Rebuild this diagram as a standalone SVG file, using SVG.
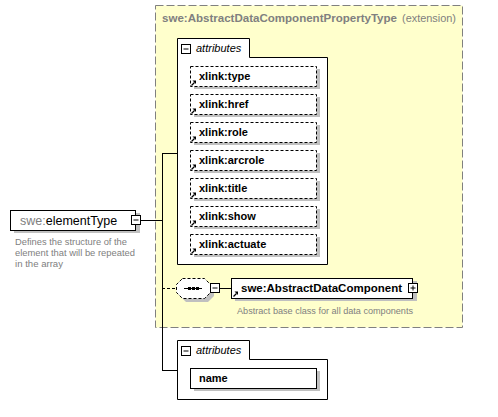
<svg xmlns="http://www.w3.org/2000/svg" width="498" height="417" viewBox="0 0 498 417">
<style>
text{font-family:"Liberation Sans",Arial,sans-serif;}
.b{font-weight:bold;font-size:11px;fill:#000;}
.d{font-size:9.5px;fill:#808080;}
.it{font-style:italic;font-size:11px;fill:#000;}
.sh{fill:#c0c0c0;stroke:none;}
.box{fill:#fff;stroke:#000;stroke-width:1;}
.dbox{fill:#fff;stroke:#000;stroke-width:1;stroke-dasharray:3,2;}
.ln{stroke:#000;stroke-width:1;fill:none;}
</style>
<defs>
<g id="arr">
<path d="M0.5,5.5 L3.5,2.5" stroke="#000" stroke-width="1.2" fill="none"/>
<polygon points="1.5,0.5 5,0.5 5,4" fill="#000"/>
</g>
<g id="attr">
<rect class="sh" x="4" y="3" width="126" height="20"/>
<rect class="dbox" x="0.5" y="0.5" width="126" height="20"/>
<use href="#arr" x="1" y="14"/>
</g>
<g id="minus">
<rect x="0.5" y="0.5" width="9" height="9" fill="#fff" stroke="#000"/>
<path d="M2.5,5 H7.5" stroke="#000"/>
</g>
</defs>

<g id="ext">
<rect x="155.5" y="5.5" width="307" height="322" fill="#ffffcc" stroke="#808080" stroke-dasharray="8,3"/>
<text x="162" y="22" font-size="11px" fill="#808080" font-weight="bold" textLength="235" lengthAdjust="spacingAndGlyphs">swe:AbstractDataComponentPropertyType</text>
<text x="402" y="22" font-size="11px" fill="#808080" textLength="54" lengthAdjust="spacingAndGlyphs">(extension)</text>
</g>

<g id="connectors">
<path class="ln" d="M141,220.5 H162.5 M162.5,153 V370.5 M162,153.5 H177 M162,370.5 H177 M220,288.5 H231"/>
<path class="ln" d="M162,288.5 H176" stroke-dasharray="3,2"/>
</g>

<g id="elementType">
<rect class="sh" x="14" y="213" width="126" height="20"/>
<rect class="box" x="10.5" y="210.5" width="125" height="20"/>
<text x="20" y="225" font-size="12.5px"><tspan fill="#808080">swe:</tspan><tspan fill="#000">elementType</tspan></text>
<use href="#minus" x="131" y="215"/>
<text class="d" x="15" y="245" textLength="112" lengthAdjust="spacingAndGlyphs">Defines the structure of the</text>
<text class="d" x="15" y="256" textLength="120" lengthAdjust="spacingAndGlyphs">element that will be repeated</text>
<text class="d" x="15" y="267" textLength="48" lengthAdjust="spacingAndGlyphs">in the array</text>
</g>

<g id="attributes1">
<path class="box" d="M177.5,38.5 H249.5 V57.5 H327.5 V264.5 H177.5 Z"/>
<use href="#minus" x="181" y="44"/>
<text class="it" x="196" y="52">attributes</text>
</g>
<g id="xlink_type"><use href="#attr" x="190" y="66"/><text class="b" x="199" y="80">xlink:type</text></g>
<g id="xlink_href"><use href="#attr" x="190" y="94"/><text class="b" x="199" y="108">xlink:href</text></g>
<g id="xlink_role"><use href="#attr" x="190" y="122"/><text class="b" x="199" y="136">xlink:role</text></g>
<g id="xlink_arcrole"><use href="#attr" x="190" y="150"/><text class="b" x="199" y="164">xlink:arcrole</text></g>
<g id="xlink_title"><use href="#attr" x="190" y="178"/><text class="b" x="199" y="192">xlink:title</text></g>
<g id="xlink_show"><use href="#attr" x="190" y="206"/><text class="b" x="199" y="220">xlink:show</text></g>
<g id="xlink_actuate"><use href="#attr" x="190" y="234"/><text class="b" x="199" y="248">xlink:actuate</text></g>

<g id="sequence">
<polygon class="sh" points="186,282 208,282 214,288 214,296 208,302 186,302 180,296 180,288"/>
<polygon class="dbox" points="182.5,278.5 204.5,278.5 210.5,284.5 210.5,292.5 204.5,298.5 182.5,298.5 176.5,292.5 176.5,284.5"/>
<path d="M184,288.5 H202" stroke="#000"/>
<rect x="188" y="287" width="3" height="3" fill="#000"/>
<rect x="192" y="287" width="3" height="3" fill="#000"/>
<rect x="196" y="287" width="3" height="3" fill="#000"/>
<use href="#minus" x="210" y="283"/>
</g>

<g id="AbstractDataComponent">
<rect class="sh" x="235" y="281" width="182" height="20"/>
<rect class="box" x="231.5" y="278.5" width="181" height="20"/>
<use href="#arr" x="233" y="291"/>
<text class="b" x="241" y="292" textLength="161" lengthAdjust="spacingAndGlyphs">swe:AbstractDataComponent</text>
<rect x="408.5" y="283.5" width="9" height="9" fill="#fff" stroke="#000"/>
<path d="M410.5,288 H415.5 M413,285.5 V290.5" stroke="#000"/>
<text class="d" x="237" y="314" textLength="176" lengthAdjust="spacingAndGlyphs">Abstract base class for all data components</text>
</g>

<g id="attributes2">
<path class="box" d="M177.5,340.5 H249.5 V359.5 H327.5 V399.5 H177.5 Z"/>
<use href="#minus" x="181" y="346"/>
<text class="it" x="196" y="354">attributes</text>
</g>
<g id="name">
<rect class="sh" x="194" y="371" width="126" height="20"/>
<rect class="box" x="190.5" y="368.5" width="126" height="20"/>
<text class="b" x="199" y="382">name</text>
</g>
</svg>
